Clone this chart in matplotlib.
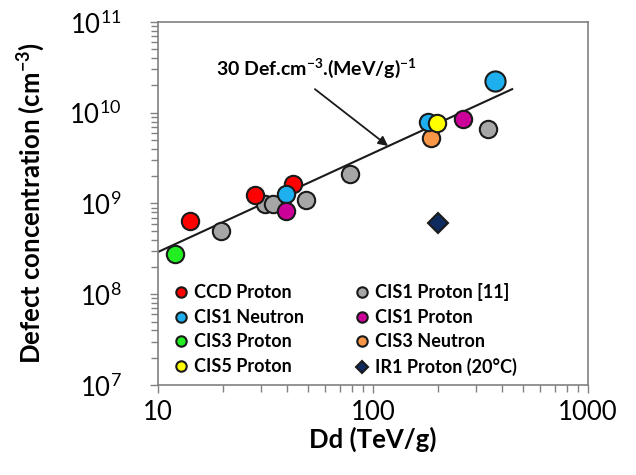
import numpy as np
import matplotlib
matplotlib.use("Agg")
import matplotlib.pyplot as plt

plt.rcParams['font.family'] = ['Lato', 'DejaVu Sans']
plt.rcParams['mathtext.fontset'] = 'custom'
plt.rcParams['mathtext.rm'] = 'Lato'
plt.rcParams['mathtext.bf'] = 'Lato:bold'

# Dd (TeV/g) and defect concentration (cm^-3) per data set
ccd_p_x = [14.1, 28.3, 42.5]
ccd_p_y = [6.4e8, 1.24e9, 1.64e9]
cis1_p11_x = [19.6, 31.5, 34.3, 48.8, 78, 343]
cis1_p11_y = [5.0e8, 9.9e8, 9.9e8, 1.09e9, 2.11e9, 6.6e9]
cis3_n_x = [186]
cis3_n_y = [5.3e9]
cis1_n_x = [39.4, 180, 369]
cis1_n_y = [1.27e9, 7.9e9, 2.24e10]
cis1_p_x = [39.4, 262]
cis1_p_y = [8.3e8, 8.5e9]
cis3_p_x = [12.0]
cis3_p_y = [2.77e8]
cis5_p_x = [199]
cis5_p_y = [7.7e9]
ir1_p_x = [200]
ir1_p_y = [6.1e8]

# fitted line (30 Def.cm-3.(MeV/g)-1)
fit_x = [10, 444]
fit_y = [2.92e8, 1.82e10]

edge = '#1a1a1a'
ms = 12.5

fig = plt.figure(figsize=(6.36, 4.75), dpi=100)
ax = fig.add_axes([0.2484, 0.1895, 0.6761, 0.7642])

ax.plot(fit_x, fit_y, color='#1a1a1a', lw=1.5, zorder=2)

def dots(x, y, color, label, marker='o', size=ms):
    ax.plot(x, y, linestyle='none', marker=marker, ms=size, mfc=color,
            mec=edge, mew=1.5, label=label, zorder=3)

dots(cis1_p11_x, cis1_p11_y, '#A6A6A6', 'CIS1 Proton [11]')
dots(ccd_p_x, ccd_p_y, '#FF0000', 'CCD Proton')
dots(cis3_n_x, cis3_n_y, '#F79646', 'CIS3 Neutron')
dots(cis1_n_x[:2], cis1_n_y[:2], '#1EB0EE', 'CIS1 Neutron')
ax.plot(cis1_n_x[2:], cis1_n_y[2:], linestyle='none', marker='o', ms=14.5,
        mfc='#1EB0EE', mec=edge, mew=1.5, zorder=3)
dots(cis1_p_x, cis1_p_y, '#CC0099', 'CIS1 Proton')
dots(cis3_p_x, cis3_p_y, '#22EE22', 'CIS3 Proton')
dots(cis5_p_x, cis5_p_y, '#FFFF00', 'CIS5 Proton')
dots(ir1_p_x, ir1_p_y, '#0F2A5F', 'IR1 Proton (20°C)', marker='D', size=10)

ax.set_xscale('log')
ax.set_yscale('log')
ax.set_xlim(10, 1000)
ax.set_ylim(1e7, 1e11)

for s in ax.spines.values():
    s.set_color('#808080')
    s.set_linewidth(1.2)
ax.tick_params(which='both', direction='out', color='#808080', width=1.0)
ax.tick_params(which='major', length=6, labelsize=18.5)
ax.tick_params(which='minor', length=5)
ax.tick_params(axis='y', which='major', pad=20)
ax.tick_params(axis='x', which='major', pad=5)
ax.set_yticks([1e7, 1e8, 1e9, 1e10, 1e11])
ax.set_yticklabels(['$10^{7}$', '$10^{8}$', '$10^{9}$', '$10^{10}$', '$10^{11}$'])
ax.set_xticks([10, 100, 1000])
ax.set_xticklabels(['10', '100', '1000'])

ax.set_xlabel('Dd (TeV/g)', fontsize=18.5, fontweight='bold', labelpad=1)
ax.set_ylabel('Defect concentration (cm$^{\\mathbf{-3}}$)', fontsize=18.5,
              fontweight='bold', labelpad=16)

ax.text(54.8, 2.3e10, '30 Def.cm$^{\\mathbf{-3}}$.(MeV/g)$^{\\mathbf{-1}}$',
        fontsize=14, fontweight='bold', ha='center', va='bottom')
ax.annotate('', xy=(117.5, 4.3e9), xytext=(53.7, 1.82e10),
            arrowprops=dict(arrowstyle='-|>', color='#1a1a1a', lw=1.3,
                            mutation_scale=14, shrinkA=0, shrinkB=0))

order = ['CCD Proton', 'CIS1 Neutron', 'CIS3 Proton', 'CIS5 Proton',
         'CIS1 Proton [11]', 'CIS1 Proton', 'CIS3 Neutron', 'IR1 Proton (20°C)']
handles, labels = ax.get_legend_handles_labels()
lut = dict(zip(labels, handles))
ax.legend([lut[k] for k in order], order, ncol=2, frameon=False,
          loc='upper left', bbox_to_anchor=(0.0, 0.315),
          prop={'weight': 'bold', 'size': 13}, markerscale=0.6,
          handletextpad=0.1, handlelength=1.2, columnspacing=2.6,
          labelspacing=0.42, borderaxespad=0.3)

fig.savefig('out.png', dpi=100)
